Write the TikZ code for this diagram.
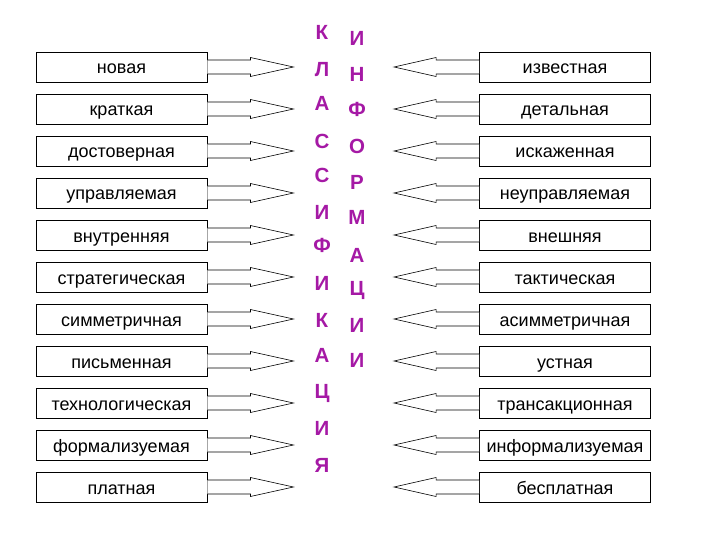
\documentclass[tikz,border=0pt]{standalone}
\usepackage{fontspec}
\setmainfont{Liberation Sans}
\usetikzlibrary{calc}
\definecolor{letc}{RGB}{165,25,165}
\begin{document}
\begin{tikzpicture}[x=1pt,y=1pt,
 box/.style={draw,line width=0.9pt,minimum width=171pt,minimum height=30pt,inner sep=0pt,text height=14pt,text depth=0pt,font=\fontsize{18}{18}\selectfont},
 arr/.style={draw,line width=0.6pt,fill=white},
 letter/.style={text=letc,font=\bfseries\fontsize{20.5}{20.5}\selectfont,inner sep=0pt}]
\useasboundingbox[fill=white] (0,0) rectangle (720,-540);
\foreach \t [count=\i] in {новая,краткая,достоверная,управляемая,внутренняя,стратегическая,симметричная,письменная,технологическая,формализуемая,платная}{
  \node[box] (l\i) at (121.5,{-67-42*(\i-1)}) {\t};
  \coordinate (lt\i) at ($(l\i.east)+(86,0)$);
  \draw[arr] ($(l\i.east)+(0,7)$) -- ++(43,0) -- ++(0,2.5) -- (lt\i) -- ($(l\i.east)+(43,-9.5)$) -- ++(0,2.5) -- ($(l\i.east)+(0,-7)$);
}
\foreach \t [count=\i] in {известная,детальная,искаженная,неуправляемая,внешняя,тактическая,асимметричная,устная,трансакционная,информализуемая,бесплатная}{
  \node[box] (r\i) at (565,{-67-42*(\i-1)}) {\t};
  \coordinate (rt\i) at ($(r\i.west)+(-85,0)$);
  \draw[arr] ($(r\i.west)+(0,7)$) -- ++(-43,0) -- ++(0,2.5) -- (rt\i) -- ($(r\i.west)+(-43,-9.5)$) -- ++(0,2.5) -- ($(r\i.west)+(0,-7)$);
}
\foreach \c/\y [count=\k] in {К/32,Л/70,А/103,С/141,С/175,И/212,Ф/245,И/283,К/320,А/355,Ц/393,И/428,Я/465}{
  \node[letter] (a\k) at (322,-\y) {\c};
}
\foreach \c/\y [count=\k] in {И/38,Н/74,Ф/109,О/146,Р/182,М/217,А/255,Ц/290,И/325,И/360}{
  \node[letter] (b\k) at (357,-\y) {\c};
}
\end{tikzpicture}
\end{document}
